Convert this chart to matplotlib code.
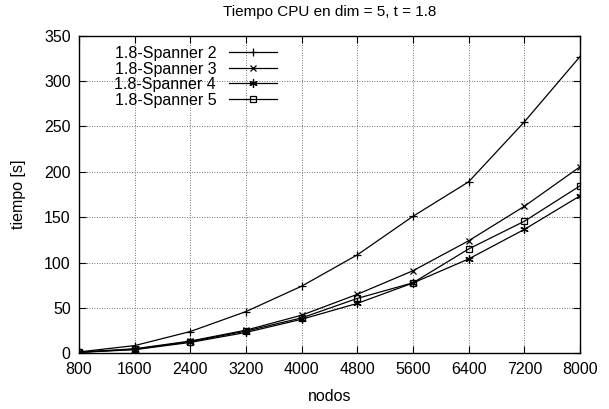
import matplotlib as mpl
import matplotlib.pyplot as plt

# tiempos de CPU por numero de nodos
nodos = [800, 1600, 2400, 3200, 4000, 4800, 5600, 6400, 7200, 8000]
spanner2 = [1.5, 8.5, 24, 46, 74, 108.5, 151, 189, 255, 327]
spanner3 = [1.2, 5, 13.5, 25.5, 42, 65, 91, 124, 162, 205.5]
spanner4 = [1, 4, 12, 23, 37.5, 55, 77.5, 104, 136.5, 173.5]
spanner5 = [1.1, 4.5, 12.8, 24.5, 39, 60.5, 77.7, 115, 145.5, 184.5]
etiquetas = ['1.8-Spanner 2', '1.8-Spanner 3', '1.8-Spanner 4', '1.8-Spanner 5']
yticks = [0, 50, 100, 150, 200, 250, 300, 350]

mpl.rcParams.update({'font.family': 'Liberation Sans', 'font.size': 11.5})

fig = plt.figure(figsize=(6.09, 4.09), dpi=100)
ax = fig.add_axes([79 / 609, 55.7 / 409, 501 / 609, 317.6 / 409])

series = [spanner2, spanner3, spanner4, spanner5]
markers = ['+', 'x', (6, 2, 0), 's']
sizes = [6, 5, 6, 5]
for datos, etiqueta, m, ms in zip(series, etiquetas, markers, sizes):
    ax.plot(nodos, datos, color='black', linewidth=0.9, marker=m, markersize=ms,
            markerfacecolor='none', markeredgewidth=0.9, label=etiqueta)

ax.set_xlim(800, 8000)
ax.set_ylim(0, 350)
ax.set_xticks(nodos)
ax.set_yticks(yticks)
ax.tick_params(direction='in', top=True, right=True, length=5, width=0.8, pad=6)
ax.grid(True, linestyle=(0, (1, 2)), color='#444444', linewidth=0.6)
for s in ax.spines.values():
    s.set_linewidth(1.0)

ax.set_title('Tiempo CPU en dim = 5, t = 1.8', fontsize=11, pad=14)
ax.set_xlabel('nodos', labelpad=9)
ax.set_ylabel('tiempo [s]', labelpad=13)

leg = ax.legend(loc='upper left', bbox_to_anchor=(0.05, 1.0), frameon=False,
                markerfirst=False, handlelength=3.0, handletextpad=0.8,
                labelspacing=0.03, borderaxespad=0.25)

fig.savefig('out.png', dpi=100)
